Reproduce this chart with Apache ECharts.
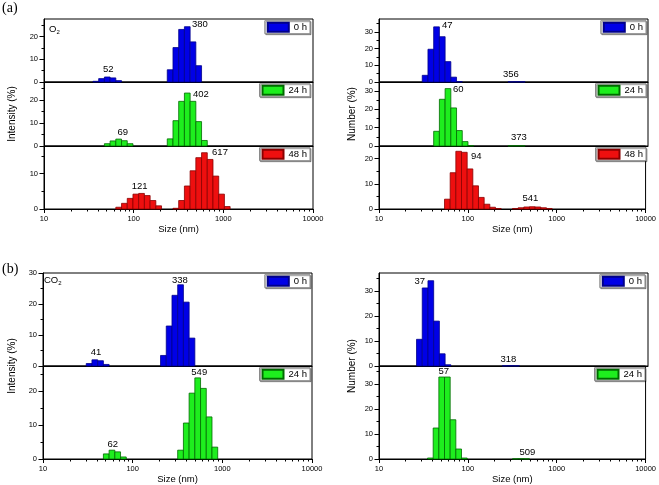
<!DOCTYPE html>
<html><head><meta charset="utf-8">
<script src="https://cdn.jsdelivr.net/npm/echarts@6/dist/echarts.min.js"></script>
<style>html,body{margin:0;padding:0;background:#fff}#c{width:659px;height:485px}</style>
</head><body><div id="c"></div>
<script>
// ---------------- DATA ----------------
const sizeTickLabels = [10, 100, 1000, 10000];
const sizeMinorTicks = [20,30,40,50,60,70,80,90,200,300,400,500,600,700,800,900,2000,3000,4000,5000,6000,7000,8000,9000];
const binRatio = 1.1583; // DLS size-bin spacing

// (a) O2 - Intensity
const aInt0hSizes  = [37.84,43.82,50.75,58.77,68.06, 255.0,295.3,342.0,396.1,458.7,531.2];
const aInt0hValues = [0.3,1.5,2.2,1.8,0.6, 5.4,15.2,23.2,24.4,17.7,7.2];
const aInt24hSizes  = [50.75,58.77,68.06,78.82,91.28, 255.0,295.3,342.0,396.1,458.7,531.2,615.1];
const aInt24hValues = [1.0,2.2,3.0,2.3,1.0, 3.1,11.0,19.4,23.0,19.4,10.6,2.4];
const aInt48hSizes  = [68.06,78.82,91.28,105.7,122.4,141.8,164.2,190.1, 295.3,342.0,396.1,458.7,531.2,615.1,712.4,825.0,955.4,1106];
const aInt48hValues = [0.5,1.6,3.0,4.2,4.4,3.8,2.4,0.9, 0.2,2.4,6.5,10.8,14.5,15.9,14.0,9.3,4.2,0.7];
// (a) O2 - Number
const aNum0hSizes  = [32.67,37.84,43.82,50.75,58.77,68.06,78.82, 295.3,342.0,396.1];
const aNum0hValues = [4.0,19.6,33.0,27.1,12.2,2.9,0.2, 0.1,0.15,0.1];
const aNum24hSizes  = [43.82,50.75,58.77,68.06,78.82,91.28,105.7, 295.3,342.0,396.1];
const aNum24hValues = [8.0,25.4,31.2,20.7,8.4,2.4,0.2, 0.1,0.15,0.1];
const aNum48hSizes  = [58.77,68.06,78.82,91.28,105.7,122.4,141.8,164.2,190.1,220.2, 342.0,396.1,458.7,531.2,615.1,712.4,825.0];
const aNum48hValues = [3.9,14.4,22.9,22.5,15.9,9.2,4.6,1.9,0.7,0.2, 0.2,0.5,0.8,0.9,0.8,0.5,0.2];
// (b) CO2 - Intensity
const bInt0hSizes  = [32.67,37.84,43.82,50.75, 220.2,255.0,295.3,342.0,396.1,458.7];
const bInt0hValues = [0.8,2.0,1.7,0.5, 3.4,12.9,22.8,26.2,20.6,9.0];
const bInt24hSizes  = [50.75,58.77,68.06,78.82, 342.0,396.1,458.7,531.2,615.1,712.4,825.0];
const bInt24hValues = [1.5,2.6,2.1,0.6, 2.6,10.6,19.4,23.9,20.8,12.4,3.5];
// (b) CO2 - Number
const bNum0hSizes  = [28.21,32.67,37.84,43.82,50.75,58.77, 255.0,295.3,342.0];
const bNum0hValues = [10.7,31.3,34.2,18.0,4.9,0.5, 0.08,0.12,0.08];
const bNum24hSizes  = [37.84,43.82,50.75,58.77,68.06,78.82,91.28, 342.0,396.1,458.7];
const bNum24hValues = [0.4,12.4,32.8,32.8,15.7,4.0,0.4, 0.08,0.12,0.08];

// peak annotations: text and anchor [size nm, %]
const aInt0hPeaks  = [['52',52.1,5.7],['380',549,25.4]];
const aInt24hPeaks = [['69',75.5,6.1],['402',563,22.5]];
const aInt48hPeaks = [['121',116.7,6.5],['617',918,15.9]];
const aNum0hPeaks  = [['47',57.6,34.0],['356',296,4.8]];
const aNum24hPeaks = [['60',76.6,31.0],['373',364,4.9]];
const aNum48hPeaks = [['94',124,20.8],['541',505,4.2]];
const bInt0hPeaks  = [['41',39,4.3],['338',337,27.6]];
const bInt24hPeaks = [['62',60,4.2],['549',553,25.5]];
const bNum0hPeaks  = [['37',28.5,34.1],['318',277,2.7]];
const bNum24hPeaks = [['57',53.6,35.0],['509',467,2.8]];

// y-axis ticks
const yT20 = [0,10,20], yT10 = [0,10], yT30 = [0,10,20,30];
const yM25 = [5,15,25], yM15 = [5,15], yM35 = [5,15,25,35];

// ---------------- BUILD ----------------
const FONT = "'Liberation Sans', Arial, sans-serif";
const COLORS = {
  '0 h':  {fill:'#0000e6', stroke:'#00008a'},
  '24 h': {fill:'#1eee1e', stroke:'#006a00'},
  '48 h': {fill:'#ee0f0f', stroke:'#8a0000'}
};
const HW = Math.log10(binRatio)/2;
const grids=[], xAxes=[], yAxes=[], series=[], legends=[];

function addPanel(c){
  const gi = grids.length;
  grids.push({left:c.left, top:c.top, width:c.width, height:c.height, show:true,
    borderColor:'#000', borderWidth:1, backgroundColor:'transparent'});
  const xi = xAxes.length;
  xAxes.push({type:'value', gridIndex:gi, min:1, max:4, interval:1, position:'bottom',
    axisLine:{show:true, onZero:false, lineStyle:{color:'#000', width:1}},
    splitLine:{show:false},
    axisTick:{show:!!c.showX, length:4, lineStyle:{color:'#000'}},
    axisLabel:{show:!!c.showX, formatter:v=>String(sizeTickLabels[Math.round(v)-1]),
      fontSize:7.5, color:'#000', margin:6, fontFamily:FONT},
    name:c.showX?'Size (nm)':'', nameLocation:'middle', nameGap:14,
    nameTextStyle:{fontSize:9.5, color:'#000', fontFamily:FONT}});
  if(c.showX){
    xAxes.push({type:'value', gridIndex:gi, min:1, max:4, position:'bottom',
      axisLine:{show:false}, splitLine:{show:false}, axisLabel:{show:false},
      axisTick:{show:true, length:2.5, customValues:sizeMinorTicks.map(Math.log10), lineStyle:{color:'#000'}}});
  }
  const yi = yAxes.length;
  yAxes.push({type:'value', gridIndex:gi, min:0, max:c.ymax, position:'left',
    axisLine:{show:true, lineStyle:{color:'#000'}}, splitLine:{show:false},
    axisTick:{show:true, length:4.5, customValues:c.yTicks, lineStyle:{color:'#000'}},
    axisLabel:{customValues:c.yTicks, fontSize:7.5, color:'#000', margin:6, fontFamily:FONT}});
  yAxes.push({type:'value', gridIndex:gi, min:0, max:c.ymax, position:'left',
    axisLine:{show:false}, splitLine:{show:false}, axisLabel:{show:false},
    axisTick:{show:true, length:2.5, customValues:c.yMinor, lineStyle:{color:'#000'}}});
  const col = COLORS[c.name];
  series.push({type:'custom', name:c.name, xAxisIndex:xi, yAxisIndex:yi,
    itemStyle:{color:col.fill, borderColor:col.stroke, borderWidth:0.8},
    data:c.sizes.map((s,i)=>[Math.log10(s), c.values[i]]),
    renderItem:(params, api)=>{
      const lx = api.value(0), v = api.value(1);
      const p0 = api.coord([lx-HW, 0]), p1 = api.coord([lx+HW, v]);
      return {type:'rect', shape:{x:p0[0], y:p1[1], width:p1[0]-p0[0], height:p0[1]-p1[1]},
        style:{fill:col.fill, stroke:col.stroke, lineWidth:0.8}};
    }});
  const peaks = c.peaks;
  series.push({type:'custom', name:'peaks'+gi, xAxisIndex:xi, yAxisIndex:yi, silent:true,
    data:peaks.map(p=>[Math.log10(p[1]), p[2]]),
    renderItem:(params, api)=>{
      const p = api.coord([api.value(0), api.value(1)]);
      return {type:'text', x:p[0], y:p[1], style:{text:peaks[params.dataIndex][0], fill:'#000',
        font:'9.5px '+FONT, align:'center', verticalAlign:'middle'}};
    }});
  legends.push({data:[c.name], right:c.legRight, top:c.top+1.7, icon:'rect', itemWidth:21, itemHeight:9,
    padding:[1,3,1,2], borderColor:'#8a8a8a', borderWidth:1, backgroundColor:'#fff', selectedMode:false,
    shadowColor:'rgba(0,0,0,0.35)', shadowOffsetX:1, shadowOffsetY:1, shadowBlur:0,
    textStyle:{fontSize:9.5, color:'#000', fontFamily:FONT}});
}

// (a) left: Intensity
addPanel({left:44, top:19, width:269, height:63, ymax:27.8, yTicks:yT20, yMinor:yM25, name:'0 h', sizes:aInt0hSizes, values:aInt0hValues, peaks:aInt0hPeaks, legRight:349});
addPanel({left:44, top:82, width:269, height:64, ymax:27.8, yTicks:yT20, yMinor:yM25, name:'24 h', sizes:aInt24hSizes, values:aInt24hValues, peaks:aInt24hPeaks, legRight:349});
addPanel({left:44, top:146, width:269, height:63, ymax:17.8, yTicks:yT10, yMinor:yM15, name:'48 h', sizes:aInt48hSizes, values:aInt48hValues, peaks:aInt48hPeaks, legRight:349, showX:true});
// (a) right: Number
addPanel({left:379, top:19, width:269, height:63, ymax:37.7, yTicks:yT30, yMinor:yM35, name:'0 h', sizes:aNum0hSizes, values:aNum0hValues, peaks:aNum0hPeaks, legRight:13});
addPanel({left:379, top:82, width:269, height:64, ymax:34.8, yTicks:yT30, yMinor:yM25, name:'24 h', sizes:aNum24hSizes, values:aNum24hValues, peaks:aNum24hPeaks, legRight:13});
addPanel({left:379, top:146, width:269, height:63, ymax:25, yTicks:yT20, yMinor:yM15, name:'48 h', sizes:aNum48hSizes, values:aNum48hValues, peaks:aNum48hPeaks, legRight:13, showX:true});
// (b) left: Intensity
addPanel({left:43, top:273, width:269, height:93, ymax:30, yTicks:yT30, yMinor:yM25, name:'0 h', sizes:bInt0hSizes, values:bInt0hValues, peaks:bInt0hPeaks, legRight:349});
addPanel({left:43, top:366, width:269, height:93, ymax:27.4, yTicks:yT20, yMinor:yM25, name:'24 h', sizes:bInt24hSizes, values:bInt24hValues, peaks:bInt24hPeaks, legRight:349, showX:true});
// (b) right: Number
addPanel({left:379, top:273, width:269, height:93, ymax:37.3, yTicks:yT30, yMinor:yM35, name:'0 h', sizes:bNum0hSizes, values:bNum0hValues, peaks:bNum0hPeaks, legRight:14});
addPanel({left:379, top:366, width:269, height:93, ymax:37.2, yTicks:yT30, yMinor:yM35, name:'24 h', sizes:bNum24hSizes, values:bNum24hValues, peaks:bNum24hPeaks, legRight:14, showX:true});

function vtitle(text, x, y){
  return {type:'text', x:x, y:y, rotation:Math.PI/2, silent:true,
    style:{text:text, font:'10px '+FONT, fill:'#000', align:'center', verticalAlign:'middle'}};
}
function gasLabel(main, x, y){
  return {type:'text', x:x, y:y, silent:true,
    style:{text:'{m|'+main+'}{s|2}', rich:{m:{font:'9.5px '+FONT, fill:'#000'}, s:{font:'6px '+FONT, fill:'#000', padding:[5,0,0,0]}}}};
}

const chart = echarts.init(document.getElementById('c'), null, {renderer:'canvas'});
chart.setOption({
  animation:false,
  backgroundColor:'#fff',
  grid:grids, xAxis:xAxes, yAxis:yAxes, series:series, legend:legends,
  graphic:[
    {type:'text', x:2, y:1, silent:true, style:{text:'(a)', font:'14px "Liberation Serif", "Times New Roman", serif', fill:'#000'}},
    {type:'text', x:2, y:262, silent:true, style:{text:'(b)', font:'14px "Liberation Serif", "Times New Roman", serif', fill:'#000'}},
    vtitle('Intensity (%)', 12, 114),
    vtitle('Number (%)', 352, 114),
    vtitle('Intensity (%)', 12, 366),
    vtitle('Number (%)', 352, 366),
    gasLabel('O', 49, 24),
    gasLabel('CO', 44, 275)
  ]
});
</script></body></html>
